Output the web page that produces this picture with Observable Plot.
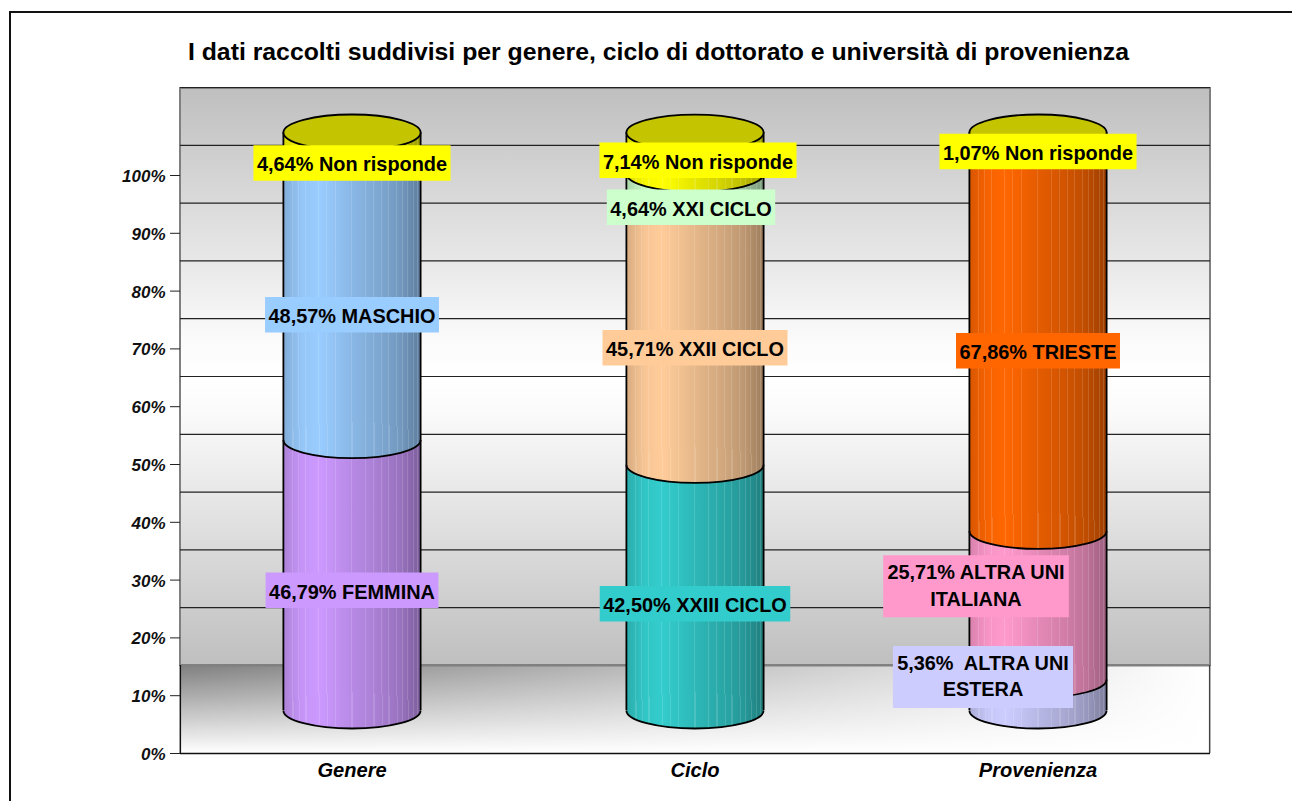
<!DOCTYPE html>
<html lang="it">
<head>
<meta charset="utf-8">
<script src="https://cdn.jsdelivr.net/npm/d3@7"></script>
<script src="https://cdn.jsdelivr.net/npm/@observablehq/plot@0.6"></script>
<style>
  html, body { margin: 0; padding: 0; background: #fff; overflow: hidden; }
  #page { position: relative; width: 1292px; height: 801px; }
  #edge { position: absolute; left: 9px; top: 11px; right: -5px; bottom: -5px; border-top: 2px solid #111; border-left: 2px solid #111; }
  #title { position: absolute; left: 0; top: 38px; width: 1317px; text-align: center; font: bold 24.8px/28px "Liberation Sans", Arial, sans-serif; color: #000; }
  #chart { position: absolute; left: 0; top: 0; }
  #chart text, #chart tspan { white-space: pre; }
</style>
</head>
<body>
<div id="page">
  <div id="edge"></div>
  <div id="chart"></div>
  <div id="title">I dati raccolti suddivisi per genere, ciclo di dottorato e università di provenienza</div>
</div>
<script>
const categories = ["Genere", "Ciclo", "Provenienza"];
const genereValues = [46.79, 48.57, 4.64];
const genereNames = ["FEMMINA", "MASCHIO", "Non risponde"];
const cicloValues = [42.5, 45.71, 4.64, 7.14];
const cicloNames = ["XXIII CICLO", "XXII CICLO", "XXI CICLO", "Non risponde"];
const provenienzaValues = [5.36, 25.71, 67.86, 1.07];
const provenienzaNames = ["ALTRA UNI\nESTERA", "ALTRA UNI\nITALIANA", "TRIESTE", "Non risponde"];
const yTicks = [0, 10, 20, 30, 40, 50, 60, 70, 80, 90, 100];

// Styling, kept apart from the data
const palette = {
  FEMMINA: "#CC99FF", MASCHIO: "#99CCFF", "Non risponde": "#FFFF00",
  "XXIII CICLO": "#33CCCC", "XXII CICLO": "#FFCC99", "XXI CICLO": "#CCFFCC",
  "ALTRA UNI\nESTERA": "#CCCCFF", "ALTRA UNI\nITALIANA": "#FF99CC", TRIESTE: "#FF6600"
};
const labelShift = { // [dx, dy] of each data label from the middle of its segment
  "Genere|FEMMINA": [0, 16], "Genere|MASCHIO": [0, 16], "Genere|Non risponde": [0, 18],
  "Ciclo|XXIII CICLO": [0, 17], "Ciclo|XXII CICLO": [0, 16], "Ciclo|XXI CICLO": [-4, 21], "Ciclo|Non risponde": [3, 8],
  "Provenienza|ALTRA UNI\nESTERA": [-55, -17], "Provenienza|ALTRA UNI\nITALIANA": [-62, -18],
  "Provenienza|TRIESTE": [0, 17], "Provenienza|Non risponde": [0, 17]
};

function stackUp(category, values, names) {
  let sum = 0;
  return values.map((v, i) => {
    const row = { category, name: names[i], value: v, y1: sum, y2: sum + v, mid: sum + v / 2 };
    sum += v;
    return row;
  });
}
const rows = [
  ...stackUp(categories[0], genereValues, genereNames),
  ...stackUp(categories[1], cicloValues, cicloNames),
  ...stackUp(categories[2], provenienzaValues, provenienzaNames)
];
const tops = categories.map(c => ({ category: c, y: d3.max(rows.filter(r => r.category === c), r => r.y2) }));

// Layout
const pxPerUnit = 5.78, axisBottom = 753, frameTop = 88, floorDepth = 88, cylLift = 43, labelLift = 44;
const frameLeft = 180, frameRight = 1210;
const halfStep = (frameRight - frameLeft) / 6;
const RX = 68.6, RY = 18;
const yTop = (axisBottom - frameTop) / pxPerUnit;
const floorUnits = floorDepth / pxPerUnit;

const K = 0.5522848;
const fullEllipse = { draw(c) {
  c.moveTo(-RX, 0);
  c.bezierCurveTo(-RX, -K * RY, -K * RX, -RY, 0, -RY);
  c.bezierCurveTo(K * RX, -RY, RX, -K * RY, RX, 0);
  c.bezierCurveTo(RX, K * RY, K * RX, RY, 0, RY);
  c.bezierCurveTo(-K * RX, RY, -RX, K * RY, -RX, 0);
  c.closePath();
}};
const frontArc = { draw(c) {
  c.moveTo(-RX, 0);
  c.bezierCurveTo(-RX, K * RY, -K * RX, RY, 0, RY);
  c.bezierCurveTo(K * RX, RY, RX, K * RY, RX, 0);
}};
const boxSymbol = (w, h) => ({ draw(c) {
  c.moveTo(-w / 2, -h / 2); c.lineTo(w / 2, -h / 2); c.lineTo(w / 2, h / 2); c.lineTo(-w / 2, h / 2); c.closePath();
}});

const ctx = document.createElement("canvas").getContext("2d");
const labelFontSize = 19.9;
ctx.font = `bold ${labelFontSize}px "Liberation Sans"`;
const labelText = r => `${r.value.toFixed(2).replace(".", ",")}%${r.name.includes("ESTERA") ? "  " : " "}${r.name}`;

const gradId = c => "g" + c.slice(1);
const shade = [[0, .84], [.06, .9], [.14, .97], [.26, 1], [.36, .96], [.5, .9], [.68, .83], [.85, .75], [1, .62]];
const stripes = [.07, .115, .165, .26, .32, .38, .5, .6, .66, .72, .77, .83, .87, .91, .95, .98];
function sideStops(hex) {
  const c = d3.rgb(hex);
  const kAt = p => {
    const i = Math.max(1, d3.bisectLeft(shade.map(s => s[0]), p));
    const [a, ka] = shade[i - 1], [b, kb] = shade[i];
    return ka + (kb - ka) * (p - a) / (b - a);
  };
  const col = (k, lift) => {
    const f = v => Math.min(255, v * k + (255 - v * k) * lift);
    return d3.rgb(f(c.r), f(c.g), f(c.b)).formatHex();
  };
  const stop = (o, k, lift) => `<stop offset="${o.toFixed(4)}" stop-color="${col(k, lift)}"/>`;
  const w = 0.004;
  const points = [...new Set([...shade.map(s => s[0]), ...stripes])].sort(d3.ascending);
  return points.map(p => {
    if (!stripes.includes(p)) return stop(p, kAt(p), 0);
    return stop(p - w, kAt(p - w), 0) + stop(p - w, kAt(p - w), .14) + stop(p + w, kAt(p + w), .14) + stop(p + w, kAt(p + w), 0);
  }).join("");
}
const defs = () => {
  const g = document.createElementNS("http://www.w3.org/2000/svg", "g");
  g.innerHTML = `<defs>
    ${[...new Set(Object.values(palette))].map(c => `<linearGradient id="${gradId(c)}" x1="0" x2="1" y1="0" y2="0">${sideStops(c)}</linearGradient>`).join("")}
    <linearGradient id="wall" x1="0" x2="0" y1="0" y2="1"><stop offset="0" stop-color="#bfbfbf"/><stop offset=".44" stop-color="#fbfbfb"/><stop offset=".5" stop-color="#fff"/><stop offset=".56" stop-color="#fbfbfb"/><stop offset="1" stop-color="#bfbfbf"/></linearGradient>
    <linearGradient id="floorV" x1="0" x2="0" y1="0" y2="1"><stop offset="0" stop-color="#7f7f7f"/><stop offset="1" stop-color="#fff"/></linearGradient>
    <linearGradient id="floorH" x1="0" x2="1" y1="0" y2="0"><stop offset="0" stop-color="#fff" stop-opacity="0"/><stop offset="1" stop-color="#fff" stop-opacity="1"/></linearGradient>
  </defs>`;
  return g;
};

const fill = r => `url(#${gradId(palette[r.name])})`;
const cylinders = categories.flatMap(c => rows.filter(r => r.category === c).flatMap(r => [
  Plot.barY([r], { x: "category", y1: "y1", y2: "y2", fill, dy: -cylLift }),
  Plot.dot([r], { x: "category", y: "y1", r: 1, symbol: fullEllipse, fill, dy: -cylLift }),
  Plot.dot([r], { x: "category", y: "y1", r: 1, symbol: frontArc, fill: "none", stroke: "#000", strokeWidth: 1.8, dy: -cylLift })
]));

const labelMarks = rows.flatMap(r => {
  const [dx, dy] = labelShift[r.category + "|" + r.name];
  const text = labelText(r);
  const lines = text.split("\n");
  const w = d3.max(lines, l => ctx.measureText(l).width) + 7;
  const h = lines.length * 26.5 + 9;
  const textNudge = lines.length > 1 ? -2.5 : 0;
  return [
    Plot.dot([r], { x: "category", y: "mid", r: 1, symbol: boxSymbol(w, h), fill: palette[r.name], dx, dy: dy - labelLift }),
    Plot.text([r], { x: "category", y: "mid", text: () => text, dx, dy: dy - labelLift + textNudge, fontSize: labelFontSize, fontWeight: "bold", fontFamily: "Liberation Sans", fill: "#000", lineHeight: 1.34, textAnchor: "middle", lineAnchor: "middle" })
  ];
});

const plot = Plot.plot({
  width: 1292, height: 801,
  marginLeft: frameLeft, marginRight: 1292 - frameRight, marginTop: frameTop, marginBottom: 801 - axisBottom,
  style: { background: "transparent", fontFamily: "Liberation Sans" },
  x: { domain: categories, paddingInner: 0.6, paddingOuter: 0.3, label: null },
  y: { domain: [0, yTop], label: null },
  marks: [
    defs,
    Plot.rect([0], { y1: floorUnits, y2: yTop, fill: "url(#wall)", stroke: "#808080", strokeWidth: 2 }),
    Plot.rect([0], { y1: 0, y2: floorUnits, fill: "url(#floorV)" }),
    Plot.rect([0], { y1: 0, y2: floorUnits, fill: "url(#floorH)" }),
    Plot.ruleY(yTicks.slice(1), { y: d => d, dy: -floorDepth, stroke: "#222", strokeWidth: 1.2 }),
    Plot.ruleY([0], { dy: -floorDepth, stroke: "#808080", strokeWidth: 2 }),
    Plot.ruleX([categories[0]], { y1: 0, y2: floorUnits, dx: -halfStep, stroke: "#111", strokeWidth: 1.5 }),
    Plot.ruleX([categories[2]], { y1: 0, y2: floorUnits, dx: halfStep, stroke: "#444", strokeWidth: 1.5 }),
    ...cylinders,
    Plot.ruleX(tops, { x: "category", y1: 0, y2: "y", dx: -RX, dy: -cylLift, stroke: "#000", strokeWidth: 1.8 }),
    Plot.ruleX(tops, { x: "category", y1: 0, y2: "y", dx: RX, dy: -cylLift, stroke: "#000", strokeWidth: 1.8 }),
    Plot.dot(tops, { x: "category", y: "y", r: 1, symbol: fullEllipse, fill: "#C4C400", stroke: "#000", strokeWidth: 1.8, dy: -cylLift }),
    ...labelMarks,
    Plot.ruleY([0], { stroke: "#111", strokeWidth: 1.5 }),
    Plot.axisY({ ticks: yTicks, tickFormat: null, text: null, tickSize: 10, stroke: "#222", label: null }),
    Plot.axisY({ ticks: yTicks, tickFormat: d => d + "%", tickSize: 0, tickPadding: 15, dy: 1, fill: "#111", fontSize: 17, fontWeight: "bold", fontStyle: "italic", label: null }),
    Plot.axisX({ tickSize: 0, tickPadding: 9, fill: "#000", fontSize: 20.1, fontWeight: "bold", fontStyle: "italic", label: null })
  ]
});
document.getElementById("chart").append(plot);
</script>
</body>
</html>
